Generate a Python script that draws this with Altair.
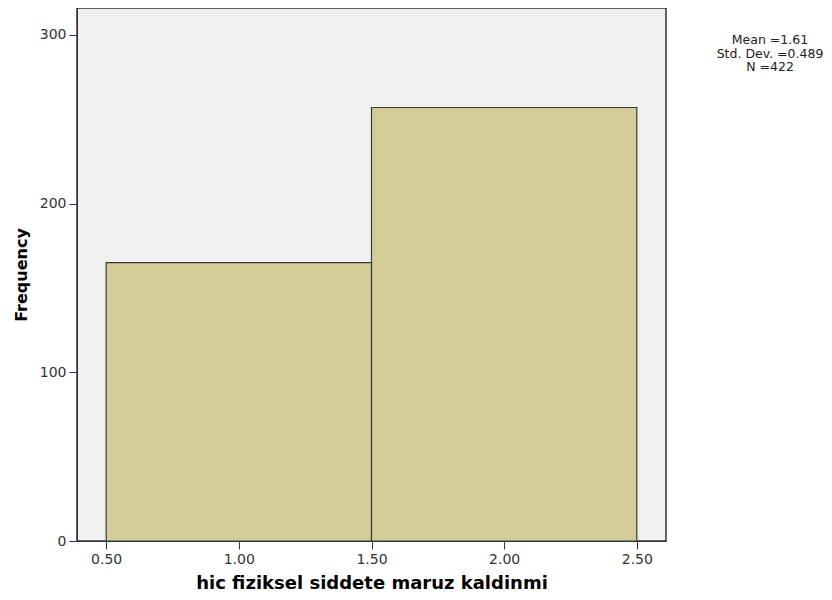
import altair as alt
import pandas as pd

bin_start = [0.5, 1.5]
bin_end = [1.5, 2.5]
counts = [165, 257]
stats_lines = ["Mean =1.61", "Std. Dev. =0.489", "N =422"]
x_ticks = [0.5, 1.0, 1.5, 2.0, 2.5]
y_ticks = [0, 100, 200, 300]

df = pd.DataFrame({"start": bin_start, "end": bin_end, "count": counts, "zero": [0] * len(counts)})

FONT = "DejaVu Sans"

bars = alt.Chart(df).mark_rect(
    fill="#d2cd96", stroke="#3a3a3a", strokeWidth=1.2
).encode(
    x=alt.X("start:Q", scale=alt.Scale(domain=[0.39, 2.61], nice=False, zero=False),
            axis=alt.Axis(values=x_ticks, format=".2f", title="hic fiziksel siddete maruz kaldinmi",
                          grid=False, tickSize=8, labelPadding=3, titlePadding=8,
                          domainColor="#333", tickColor="#333", labelColor="#333",
                          labelFont=FONT, labelFontSize=14, titleFont=FONT, titleFontSize=18,
                          titleFontWeight="bold", titleColor="#000")),
    x2="end:Q",
    y=alt.Y("count:Q", scale=alt.Scale(domain=[0, 316], nice=False),
            axis=alt.Axis(values=y_ticks, title="Frequency", grid=False, tickSize=8,
                          labelPadding=3, titlePadding=10,
                          domainColor="#333", tickColor="#333", labelColor="#333",
                          labelFont=FONT, labelFontSize=14, titleFont=FONT, titleFontSize=16,
                          titleFontWeight="bold", titleColor="#000")),
    y2="zero:Q",
)

texts = []
for k, line in enumerate(stats_lines):
    texts.append(
        alt.Chart(pd.DataFrame({"line": [line]})).mark_text(
            font=FONT, fontSize=12.5, color="#222", align="center", baseline="middle"
        ).encode(x=alt.value(693), y=alt.value(32 + 13.5 * k), text="line:N")
    )

chart = alt.layer(bars, *texts).properties(
    width=589, height=533,
    autosize=alt.AutoSizeParams(type="none"),
    padding={"left": 69, "top": 0, "right": 158, "bottom": 51},
    background="white",
).configure_view(
    fill="#f0f0f0", stroke="#333", strokeWidth=1.5
)

chart.save("out.html", embed_options={"renderer": "svg", "actions": False})
